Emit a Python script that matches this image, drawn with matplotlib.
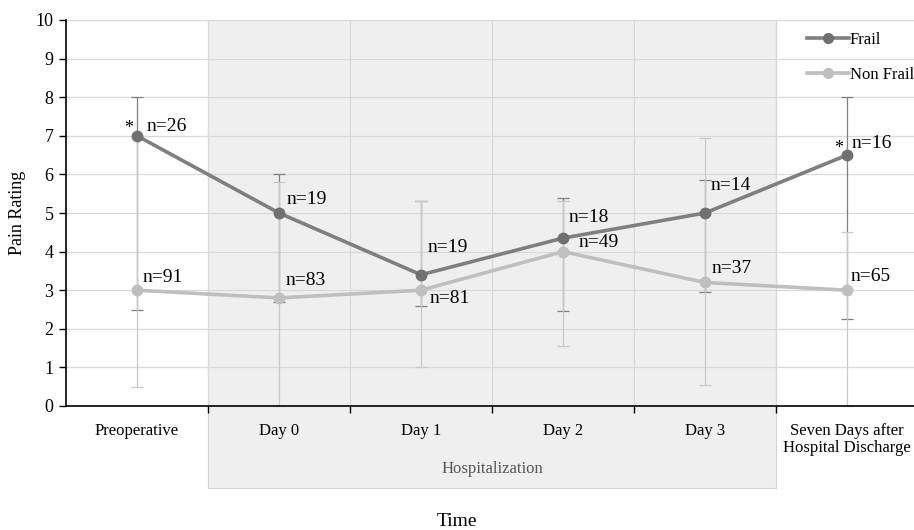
import matplotlib
matplotlib.use("Agg")
import matplotlib.pyplot as plt
from matplotlib.lines import Line2D
import numpy as np

plt.rcParams['font.family'] = ['Liberation Serif', 'DejaVu Serif']

categories = ["Preoperative", "Day 0", "Day 1", "Day 2", "Day 3",
              "Seven Days after\nHospital Discharge"]
frail = [7.0, 5.0, 3.4, 4.35, 5.0, 6.5]
frail_low = [2.5, 2.7, 2.6, 2.45, 2.95, 2.25]
frail_high = [8.0, 6.0, 5.3, 5.4, 5.85, 8.0]
nonfrail = [3.0, 2.8, 3.0, 4.0, 3.2, 3.0]
nonfrail_low = [0.5, 0.0, 1.0, 1.55, 0.55, 0.0]
nonfrail_high = [7.0, 5.8, 5.3, 5.3, 6.95, 4.5]
frail_n = ["n=26", "n=19", "n=19", "n=18", "n=14", "n=16"]
nonfrail_n = ["n=91", "n=83", "n=81", "n=49", "n=37", "n=65"]
frail_star = [True, False, False, False, False, True]

# label offsets in pixels (layout only)
frail_off = [(10, 9), (8, 13), (7, 27), (6, 21), (6, 28), (5, 12)]
nonfrail_off = [(6, 13), (7, 17), (9, -8), (16, 9), (7, 14), (4, 14)]

FRAIL_C = '#7f7f7f'
NONFRAIL_C = '#bfbfbf'

fig = plt.figure(figsize=(9.14, 5.30), dpi=100)
ax = fig.add_axes([66/914, 1-406/530, 852/914, 386/530])
x = np.arange(len(categories))

ax.set_xlim(-0.5, 5.5)
ax.set_ylim(0, 10)

# shaded hospitalization region
ax.axvspan(0.5, 4.5, ymin=-82/386, ymax=1.0, facecolor='#efefef',
           edgecolor='#d4d4d4', linewidth=0.8, clip_on=False, zorder=0)

# gridlines
for yv in range(1, 11):
    ax.axhline(yv, color='#d9d9d9', lw=0.9, zorder=0.5)
for xv in np.arange(0.5, 5.5, 1.0):
    ax.axvline(xv, color='#d9d9d9', lw=0.9, zorder=0.5)

# error bars
f = np.array(frail); nf = np.array(nonfrail)
ax.errorbar(x, f, yerr=[f - np.array(frail_low), np.array(frail_high) - f],
            fmt='none', ecolor=FRAIL_C, elinewidth=0.9, capsize=4, capthick=0.9,
            zorder=2, clip_on=False)
ax.errorbar(x, nf, yerr=[nf - np.array(nonfrail_low), np.array(nonfrail_high) - nf],
            fmt='none', ecolor='#c8c8c8', elinewidth=0.9, capsize=4, capthick=0.9,
            zorder=2.5, clip_on=False)

ax.plot(x, nonfrail, color=NONFRAIL_C, lw=2.6, marker='o', ms=7.5,
        markerfacecolor=NONFRAIL_C, markeredgecolor=NONFRAIL_C, zorder=3, label='Non Frail')
ax.plot(x, frail, color=FRAIL_C, lw=2.6, marker='o', ms=7.5,
        markerfacecolor='#707070', markeredgecolor='#707070', zorder=4, label='Frail')

for i in range(len(x)):
    ax.annotate(frail_n[i], (x[i], frail[i]), xytext=frail_off[i],
                textcoords='offset pixels', fontsize=14, ha='left', va='center',
                zorder=6)
    ax.annotate(nonfrail_n[i], (x[i], nonfrail[i]), xytext=nonfrail_off[i],
                textcoords='offset pixels', fontsize=14, ha='left', va='center',
                zorder=6)
    if frail_star[i]:
        ax.annotate('*', (x[i], frail[i]), xytext=(-8, 7),
                    textcoords='offset pixels', fontsize=13, ha='center',
                    va='center', zorder=6)

# axes styling
for s in ['top', 'right']:
    ax.spines[s].set_visible(False)
ax.spines['left'].set_color('black')
ax.spines['bottom'].set_color('black')
ax.spines['left'].set_linewidth(1.2)
ax.spines['bottom'].set_linewidth(1.2)
ax.spines['left'].set_zorder(5)
ax.spines['bottom'].set_zorder(5)
ax.set_yticks(range(0, 11))
ax.tick_params(axis='y', direction='out', length=5, width=1, labelsize=13, pad=4)
ax.set_xticks(x)
ax.set_xticklabels(categories, fontsize=12, linespacing=1.1)
ax.tick_params(axis='x', which='major', length=0, pad=12)
ax.set_xticks(np.arange(0.5, 5.5, 1.0), minor=True)
ax.tick_params(axis='x', which='minor', direction='out', length=5, width=1)
ax.set_facecolor('none')

ax.text(2.5, -(469-406)/386, 'Hospitalization', transform=ax.get_xaxis_transform(),
        ha='center', va='center', fontsize=12, color='#555555')

fig.text(457/914, 1-521/530, 'Time', ha='center', va='center', fontsize=14)
fig.text(18/914, 1-213/530, 'Pain Rating', ha='center', va='center',
         rotation=90, fontsize=13)

handles = [Line2D([], [], color=FRAIL_C, lw=2.6, marker='o', ms=7,
                  markerfacecolor='#707070', markeredgecolor='#707070'),
           Line2D([], [], color=NONFRAIL_C, lw=2.6, marker='o', ms=7,
                  markerfacecolor=NONFRAIL_C, markeredgecolor=NONFRAIL_C)]
fig.legend(handles, ['Frail', 'Non Frail'], loc='upper left',
           bbox_to_anchor=(807/914, 1-32/530), bbox_transform=fig.transFigure,
           frameon=False, borderpad=0, borderaxespad=0, handlelength=2.5,
           handletextpad=0.05, labelspacing=1.15, fontsize=12)

fig.savefig('out.png', dpi=100)
